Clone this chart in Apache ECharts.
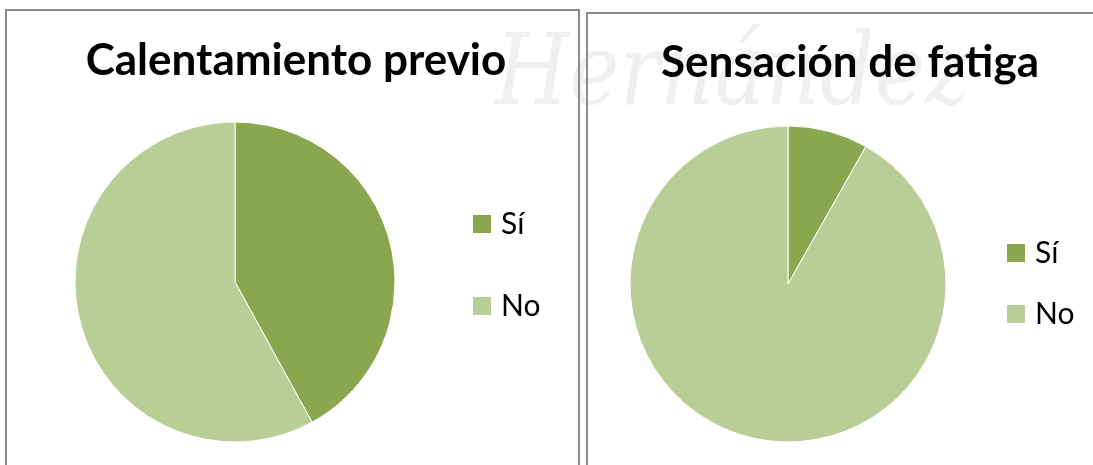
<!DOCTYPE html>
<html lang="es">
<head>
  <meta charset="UTF-8" />
  <title>Calentamiento previo · Sensación de fatiga</title>
  <script src="https://cdn.jsdelivr.net/npm/echarts@6/dist/echarts.min.js"></script>
  <style>
    html,body{margin:0;padding:0;width:100%;height:100%;overflow:hidden;background:#fff;}
    #chart{position:absolute;top:0;left:0;width:1093px;height:465px;}
  </style>
</head>
<body>
<div id="chart"></div>
<script>
/* ==== 数据 ==== */
const categories=['Sí','No'];
const warmupValues=[42,58];     // Calentamiento previo
const fatigueValues=[8.2,91.8]; // Sensación de fatiga
const chartTitles=['Calentamiento previo','Sensación de fatiga'];
const colors=['#8aa64f','#b9cd97'];

const font='Lato, "Noto Sans", sans-serif';
const toData=vals=>categories.map((c,i)=>({name:c,value:vals[i]}));

const pieBase={
  type:'pie',
  startAngle:90,
  clockwise:true,
  label:{show:false},
  labelLine:{show:false},
  emphasis:{disabled:true},
  itemStyle:{borderColor:'#fff',borderWidth:1}
};
const legendBase={
  orient:'vertical',
  icon:'rect',
  padding:0,
  itemWidth:20,itemHeight:20,
  selectedMode:false,
  data:categories,
  textStyle:{fontFamily:font,fontSize:30,color:'#000',lineHeight:30,padding:[0,0,0,4]}
};

const chart=echarts.init(document.getElementById('chart'));
chart.setOption({
  color:colors,
  animation:false,
  graphic:[
    // faint watermark behind
    {type:'text',x:495,y:28,scaleX:0.85,z:-10,silent:true,
     style:{text:'Hernández',fontFamily:'"DejaVu Serif", serif',fontStyle:'italic',fontSize:100,fill:'#f0f0f0'}},
    // chart frames
    {type:'rect',shape:{x:6,y:10,width:573,height:470},
     style:{fill:'none',stroke:'#8c8c8c',lineWidth:2}},
    {type:'rect',shape:{x:587,y:13,width:520,height:470},
     style:{fill:'none',stroke:'#8c8c8c',lineWidth:2}}
  ],
  title:[
    {text:chartTitles[0],left:291,top:34,textAlign:'center',
     textStyle:{fontFamily:font,fontWeight:'bold',fontSize:44,color:'#000'}},
    {text:chartTitles[1],left:845,top:36,textAlign:'center',
     textStyle:{fontFamily:font,fontWeight:'bold',fontSize:44,color:'#000'}}
  ],
  legend:[
    Object.assign({},legendBase,{left:471,top:209,itemGap:52}),
    Object.assign({},legendBase,{left:1005,top:238,itemGap:31})
  ],
  series:[
    Object.assign({},pieBase,{name:chartTitles[0],center:[235,282],radius:160,data:toData(warmupValues)}),
    Object.assign({},pieBase,{name:chartTitles[1],center:[788,284],radius:158,data:toData(fatigueValues)})
  ]
});
</script>
</body>
</html>
